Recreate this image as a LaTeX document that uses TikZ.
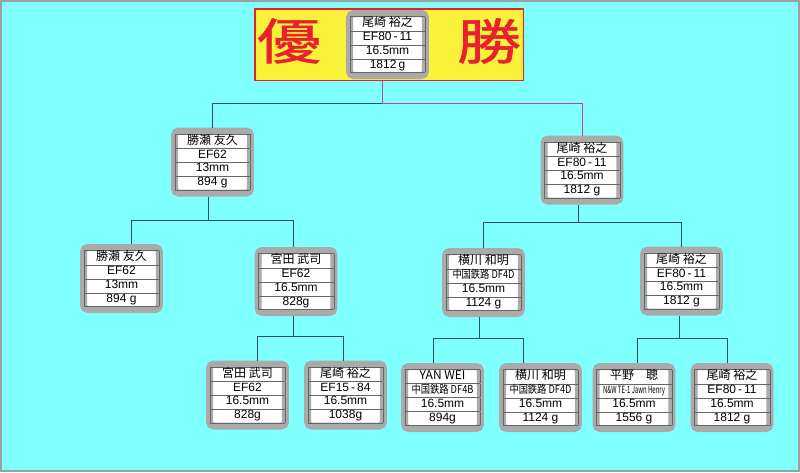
\documentclass[tikz,border=0pt]{standalone}
\usepackage{fontspec}
\usepackage{array}
\usepackage{colortbl}
\usepackage{graphicx}
\usepackage{tikz}
\usetikzlibrary{positioning,calc}
\setmainfont{Liberation Sans}
\newfontfamily\jp{Noto Sans CJK JP}
\newfontfamily\bigjp[FakeBold=1]{Noto Sans CJK JP}
\definecolor{bgcyan}{RGB}{128,255,255}
\definecolor{framegray}{RGB}{170,170,170}
\definecolor{wingold}{RGB}{250,242,58}
\definecolor{winred}{RGB}{232,32,48}
\definecolor{linedark}{RGB}{40,80,90}
\definecolor{linewin}{RGB}{190,70,150}
\newcommand{\entrytab}[4]{%
  \fontsize{12}{13}\selectfont
  \renewcommand{\arraystretch}{1.04}%
  \arrayrulecolor{black!60}%
  \begin{tabular}{@{}|>{\centering\arraybackslash}p{63pt}|@{}}
  \hline {\jp #1}\\ \hline #2\\ \hline #3\\ \hline #4\\ \hline
  \end{tabular}}
\newcommand{\squeeze}[2]{\resizebox{62pt}{\height}{\jp\fontsize{#1}{#1}\selectfont #2}}

\begin{document}
\begin{tikzpicture}[x=1pt, y=-1pt]
\tikzstyle{card}=[rectangle,
                  draw=framegray,
                  line width=7pt,
                  fill=white,
                  rounded corners=4pt,
                  minimum width=72pt,
                  minimum height=62pt,
                  inner sep=0pt]
\tikzstyle{banner}=[rectangle,
                    draw=winred,
                    line width=1.5pt,
                    fill=wingold,
                    minimum width=268.5pt,
                    minimum height=71.5pt]
\tikzstyle{bigchar}=[text=winred, inner sep=0pt,
                     font=\bigjp\fontsize{49}{49}\selectfont]
\tikzstyle{link}=[draw=linedark, line width=0.9pt]
\tikzstyle{winlink}=[draw=linewin, line width=0.9pt]

\useasboundingbox (0,0) rectangle (800,472);
\draw[draw=gray!75, fill=bgcyan, line width=2pt] (1,1) rectangle (799,471);

\node[banner] (banner) at (389,44.5) {};
\node[bigchar] (yuu) at (289,41) {\scalebox{1.3}[1]{優}};
\node[bigchar] (shou) at (489,41) {\scalebox{1.3}[1]{勝}};
\node[card] (root) at (387.5,44.5)
  {\entrytab{尾崎 裕之}{EF80\,-\,11}{16.5mm}{1812\,g}};

\node[card] (katsuseA) at (212.5,162)
  {\entrytab{勝瀬 友久}{EF62}{13mm}{894 g}};
\node[card] (ozakiA) at (582,170)
  {\entrytab{尾崎 裕之}{EF80\,-\,11}{16.5mm}{1812 g}};

\node[card] (katsuseB) at (121.5,278.5)
  {\entrytab{勝瀬 友久}{EF62}{13mm}{894 g}};
\node[card] (miyataB) at (296,281.5)
  {\entrytab{宮田 武司}{EF62}{16.5mm}{828g}};
\node[card] (yokokawaB) at (483.5,282.5)
  {\entrytab{横川 和明}{\squeeze{11}{中国鉄路 DF4D}}{16.5mm}{1124 g}};
\node[card] (ozakiB) at (681.5,281)
  {\entrytab{尾崎 裕之}{EF80\,-\,11}{16.5mm}{1812 g}};

\node[card] (miyataC) at (247.5,395)
  {\entrytab{宮田 武司}{EF62}{16.5mm}{828g}};
\node[card] (ozakiC) at (345.5,395)
  {\entrytab{尾崎 裕之}{EF15\,-\,84}{16.5mm}{1038g}};
\node[card] (yanweiC) at (442.5,397.5)
  {\entrytab{YAN WEI}{\squeeze{11}{中国鉄路 DF4B}}{16.5mm}{894g}};
\node[card] (yokokawaC) at (540.5,397.5)
  {\entrytab{横川 和明}{\squeeze{11}{中国鉄路 DF4D}}{16.5mm}{1124 g}};
\node[card] (hiranoC) at (634,397.5)
  {\entrytab{平野\quad 聰}{\squeeze{10}{N\&W TE-1 Jawn Henry}}{16.5mm}{1556 g}};
\node[card] (ozakiD) at (732,397.5)
  {\entrytab{尾崎 裕之}{EF80\,-\,11}{16.5mm}{1812 g}};

% junctions of the bracket lines
\coordinate (top) at (382,103);
\coordinate (barL) at (208,220);
\coordinate (barR) at (578,222);
\coordinate (barM) at (293,336);
\coordinate (barY) at (479,338);
\coordinate (barO) at (679,338);

\draw[winlink] (banner.south -| top) -- (top);
\draw[link] (top) -| (katsuseA.north);
\draw[winlink] (top) -| (ozakiA.north);

\draw[link] (katsuseA.south -| barL) -- (barL);
\draw[link] (barL) -| ([xshift=9.5pt]katsuseB.north);
\draw[link] (barL) -| ([xshift=-3pt]miyataB.north);

\draw[link] (ozakiA.south -| barR) -- (barR);
\draw[link] (barR) -| ([xshift=-0.5pt]yokokawaB.north);
\draw[link] (barR) -| ([xshift=-0.5pt]ozakiB.north);

\draw[link] (miyataB.south -| barM) -- (barM);
\draw[link] (barM) -| ([xshift=9.5pt]miyataC.north);
\draw[link] (barM) -| ([xshift=-2.5pt]ozakiC.north);

\draw[link] (yokokawaB.south -| barY) -- (barY);
\draw[link] (barY) -| ([xshift=-9.5pt]yanweiC.north);
\draw[link] (barY) -| ([xshift=-17.5pt]yokokawaC.north);

\draw[link] (ozakiB.south -| barO) -- (barO);
\draw[link] (barO) -| ([xshift=3pt]hiranoC.north);
\draw[link] (barO) -| ([xshift=-5pt]ozakiD.north);
\end{tikzpicture}
\end{document}
